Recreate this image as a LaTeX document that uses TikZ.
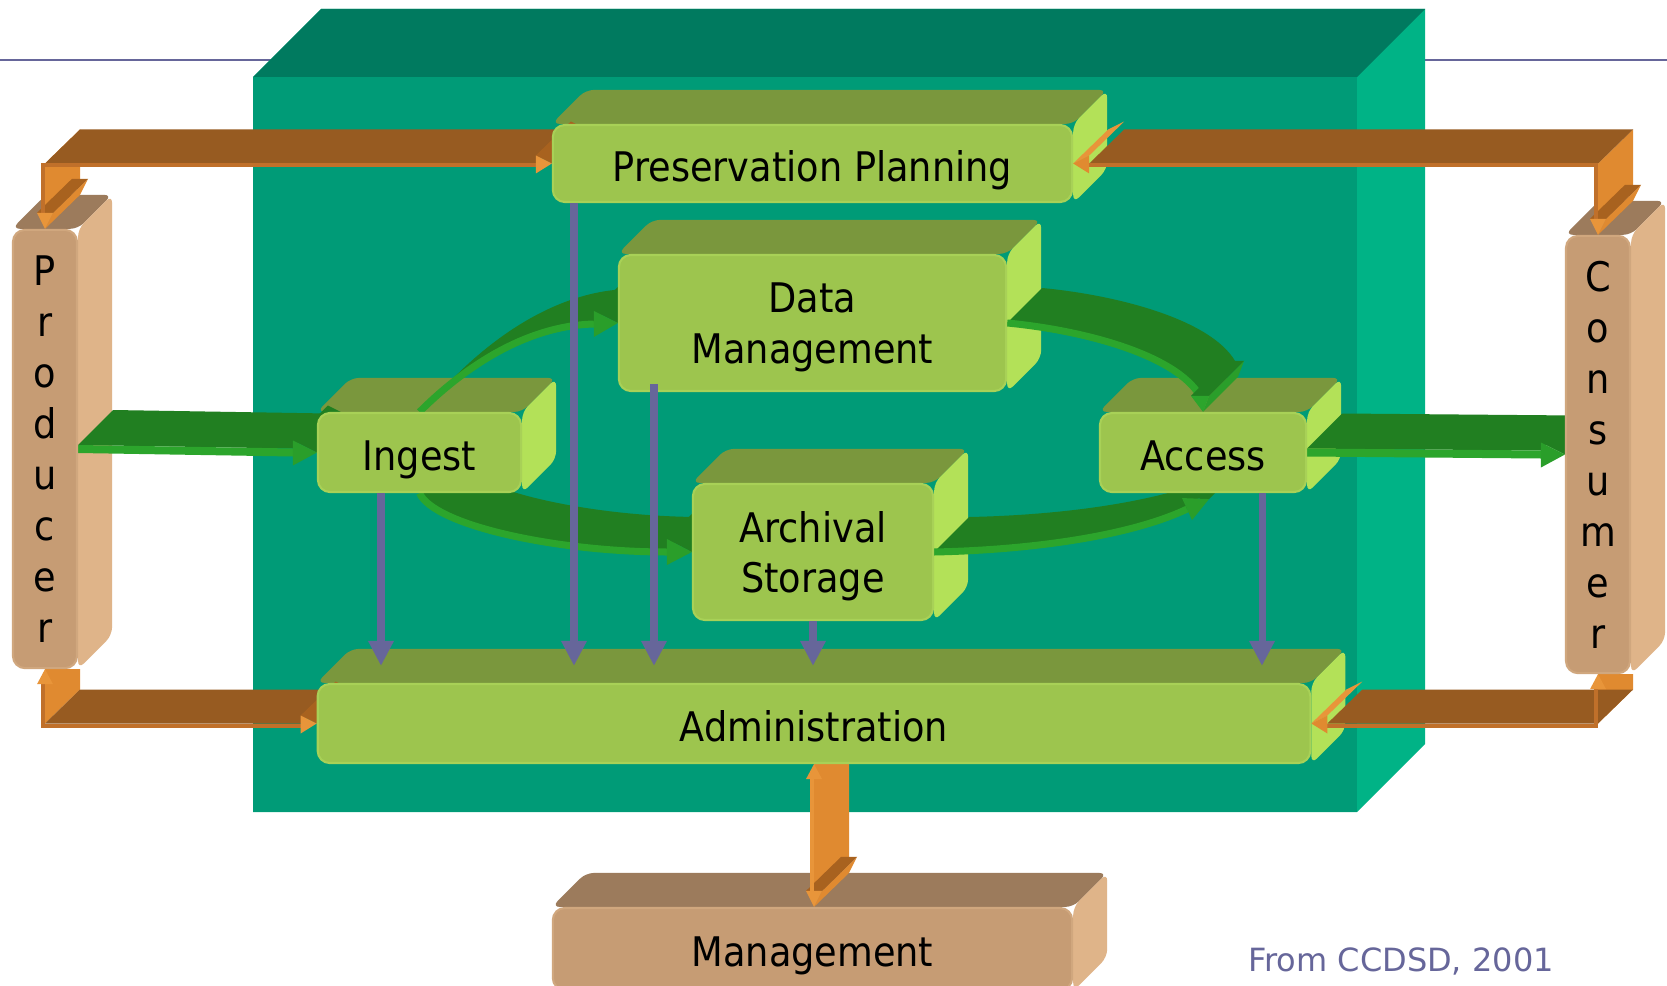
\documentclass[tikz,border=0pt]{standalone}
\usepackage{fontspec}
\IfFontExistsTF{DejaVu Sans Condensed}
  {\setmainfont{DejaVu Sans Condensed}
   \newcommand{\boxfont}{\fontsize{11.6}{14.5}\selectfont}}
  {\setmainfont{DejaVu Sans}
   \newcommand{\boxfont}{\fontsize{10.5}{14.5}\selectfont}}
\newfontfamily\notefont{DejaVu Sans}
\usetikzlibrary{arrows.meta, calc}

\definecolor{boxfront}{HTML}{9DC54E}
\definecolor{boxtop}{HTML}{7A973D}
\definecolor{boxside}{HTML}{B3E158}
\definecolor{boxedge}{HTML}{A8D157}
\definecolor{tanfront}{HTML}{C69C74}
\definecolor{tantop}{HTML}{9C7B5C}
\definecolor{tanside}{HTML}{DFB489}
\definecolor{tanedge}{HTML}{D0A77E}
\definecolor{tealfront}{HTML}{009B77}
\definecolor{tealtop}{HTML}{007A5F}
\definecolor{tealside}{HTML}{00B386}
\definecolor{flowline}{HTML}{66669A}
\definecolor{ribbontop}{HTML}{975B21}
\definecolor{ribbonside}{HTML}{E08A30}
\definecolor{ribbonlip}{HTML}{C0702A}
\definecolor{ribbonedge}{HTML}{A8621F}
\definecolor{ribbontip}{HTML}{E8953A}
\definecolor{greentop}{HTML}{217F21}
\definecolor{greenlip}{HTML}{2CA52C}
\definecolor{greenhead}{HTML}{2A9E2A}

\pgfdeclarelayer{back}
\pgfdeclarelayer{faces}
\pgfdeclarelayer{ribbons}
\pgfsetlayers{back,faces,ribbons,main}

% top and side face of a block node: node, top colour, side colour
\newcommand{\blockfaces}[3]{%
  \fill[#2, rounded corners=0.08cm] (#1.north west) -- ++(34,-34)
    -- ($(#1.north east)+(34,-34)$) -- (#1.north east) -- cycle;
  \fill[#3, rounded corners=0.08cm] (#1.north east) -- ++(34,-34)
    -- ($(#1.south east)+(34,-34)$) -- (#1.south east) -- cycle;
}

\begin{document}
\begin{tikzpicture}[x=0.01cm, y=-0.01cm,
    block/.style={rectangle, rounded corners=0.12cm, fill=boxfront, draw=boxedge,
      line width=0.6pt, inner sep=0pt, align=center, text=black, font=\boxfont,
      text depth=0pt, execute at begin node={\rule{0pt}{10.2pt}}},
    tanblock/.style={block, fill=tanfront, draw=tanedge},
    flow/.style={draw=flowline, line width=2pt,
      -{Triangle[length=0.25cm, width=0.24cm]}}]
  \useasboundingbox (0,0) rectangle (1667,985);

  % The archive box and the title rule behind it
  \begin{pgfonlayer}{back}
    \fill[white] (0,0) rectangle (1667,985);
    \draw[flowline, line width=0.6pt] (0,60) -- (1667,60);
    \coordinate (oais) at (805,444.5);
    \fill[tealside] ($(oais)+(-552,-367.5)$) -- ++(68,-68) -- ++(1104,0) -- ++(0,735)
      -- ++(-68,68) -- ++(-1104,0) -- cycle;
    \fill[tealtop] ($(oais)+(-552,-367.5)$) -- ++(68,-68) -- ++(1104,0) -- ++(-68,68) -- cycle;
    \node[fill=tealfront, inner sep=0pt, minimum width=11.04cm, minimum height=7.35cm]
      (box) at (oais) {};
  \end{pgfonlayer}

  % Functional entities
  \node[block, minimum width=5.19cm, minimum height=0.77cm] (plan) at (812.5,163.5) {Preservation Planning};
  \node[block, minimum width=3.87cm, minimum height=1.36cm] (dm) at (812.5,323) {Data\\Management};
  \node[block, minimum width=2.03cm, minimum height=0.79cm] (ing) at (419.5,452.5) {Ingest};
  \node[block, minimum width=2.06cm, minimum height=0.79cm] (acc) at (1203,452.5) {Access};
  \node[block, minimum width=2.40cm, minimum height=1.36cm] (arc) at (813,552) {Archival\\Storage};
  \node[block, minimum width=9.92cm, minimum height=0.79cm] (adm) at (814,723.5) {Administration};

  % Outside actors
  \node[tanblock, minimum width=5.19cm, minimum height=0.82cm] (mgmt) at (812.5,949) {Management};
  \node[tanblock, minimum width=0.64cm, minimum height=4.38cm] (prod) at (45,449) {P\\r\\o\\d\\u\\c\\e\\r};
  \node[tanblock, minimum width=0.64cm, minimum height=4.37cm] (cons) at (1598,454.5) {C\\o\\n\\s\\u\\m\\e\\r};

  \node[font={\notefont\fontsize{9.1}{11}\selectfont}, text=flowline] (src) at (1401,961) {From CCDSD, 2001};

  \begin{pgfonlayer}{faces}
    \blockfaces{plan}{boxtop}{boxside}
    \blockfaces{dm}{boxtop}{boxside}
    \blockfaces{ing}{boxtop}{boxside}
    \blockfaces{acc}{boxtop}{boxside}
    \blockfaces{arc}{boxtop}{boxside}
    \blockfaces{adm}{boxtop}{boxside}
    \blockfaces{mgmt}{tantop}{tanside}
    \blockfaces{prod}{tantop}{tanside}
    \blockfaces{cons}{tantop}{tanside}
  \end{pgfonlayer}

  \begin{pgfonlayer}{ribbons}
    % Producer <-> Preservation Planning
    \coordinate (tl) at (prod.north |- plan.west);
    \fill[ribbonside] (tl) -- ($(prod.north)+(0,-16)$) -- ++(35,-34) -- ($(tl)+(35,-34)$) -- cycle;
    \fill[ribbonside] ($(prod.north)+(8,-16)$) -- (prod.north) -- ++(35,-34) -- ($(prod.north)+(43,-50)$) -- cycle;
    \fill[ribbonedge] ($(prod.north)+(-8,-16)$) -- ($(prod.north)+(8,-16)$) -- ++(35,-34) -- ($(prod.north)+(27,-50)$) -- cycle;
    \fill[ribbontop] (tl) -- ($(plan.west)+(-16,0)$) -- ++(35,-34) -- ($(tl)+(35,-34)$) -- cycle;
    \fill[ribbonlip] (tl) -- ($(plan.west)+(-16,0)$) -- ++(0,4) -- ($(tl)+(0,4)$) -- cycle;
    \fill[ribbonlip] ($(tl)+(-4,0)$) rectangle ($(prod.north)+(0,-16)$);
    \fill[ribbonedge] ($(plan.west)+(-16,-8)$) -- (plan.west) -- ++(35,-34) -- ($(plan.west)+(19,-42)$) -- cycle;
    \fill[ribbontip] ($(plan.west)+(-16,-8)$) -- ($(plan.west)+(-16,10)$) -- (plan.west) -- cycle;
    \fill[ribbontip] ($(prod.north)+(-8,-16)$) -- ($(prod.north)+(8,-16)$) -- (prod.north) -- cycle;

    % Preservation Planning <-> Consumer
    \coordinate (tr) at (cons.north |- plan.east);
    \fill[ribbonside] (tr) -- ($(cons.north)+(0,-16)$) -- ++(35,-34) -- ($(tr)+(35,-34)$) -- cycle;
    \fill[ribbonside] ($(cons.north)+(8,-16)$) -- (cons.north) -- ++(35,-34) -- ($(cons.north)+(43,-50)$) -- cycle;
    \fill[ribbonedge] ($(cons.north)+(-8,-16)$) -- ($(cons.north)+(8,-16)$) -- ++(35,-34) -- ($(cons.north)+(27,-50)$) -- cycle;
    \fill[ribbontop] ($(plan.east)+(16,0)$) -- (tr) -- ++(35,-34) -- ($(plan.east)+(51,-34)$) -- cycle;
    \fill[ribbonlip] ($(plan.east)+(16,0)$) -- (tr) -- ++(0,4) -- ($(plan.east)+(16,4)$) -- cycle;
    \fill[ribbonlip] ($(tr)+(-4,0)$) rectangle ($(cons.north)+(0,-16)$);
    \fill[ribbontip] (plan.east) -- ($(plan.east)+(16,-8)$) -- ++(35,-34) -- ($(plan.east)+(35,-34)$) -- cycle;
    \fill[ribbonside] ($(plan.east)+(16,-8)$) -- ($(plan.east)+(16,10)$) -- (plan.east) -- cycle;
    \fill[ribbontip] ($(cons.north)+(-8,-16)$) -- ($(cons.north)+(8,-16)$) -- (cons.north) -- cycle;

    % Producer <-> Administration
    \coordinate (bl) at (prod.south |- adm.west);
    \fill[ribbonside] (bl) -- (prod.south) -- ++(35,0) -- ($(bl)+(35,-34)$) -- cycle;
    \fill[ribbontop] (bl) -- ($(adm.west)+(-16,0)$) -- ++(35,-34) -- ($(bl)+(35,-34)$) -- cycle;
    \fill[ribbonlip] (bl) -- ($(adm.west)+(-16,0)$) -- ++(0,4) -- ($(bl)+(0,4)$) -- cycle;
    \fill[ribbonlip] ($(bl)+(-4,4)$) rectangle ($(prod.south)+(0,15)$);
    \fill[ribbonedge] ($(adm.west)+(-16,-8)$) -- (adm.west) -- ++(35,-34) -- ($(adm.west)+(19,-42)$) -- cycle;
    \fill[ribbontip] ($(adm.west)+(-16,-8)$) -- ($(adm.west)+(-16,10)$) -- (adm.west) -- cycle;
    \fill[ribbontip] ($(prod.south)+(-8,15)$) -- ($(prod.south)+(8,15)$) -- (prod.south) -- cycle;

    % Administration <-> Consumer
    \coordinate (br) at (cons.south |- adm.east);
    \fill[ribbonside] (br) -- (cons.south) -- ++(35,0) -- ($(br)+(35,-34)$) -- cycle;
    \fill[ribbontop] ($(adm.east)+(16,0)$) -- (br) -- ++(35,-34) -- ($(adm.east)+(51,-34)$) -- cycle;
    \fill[ribbonlip] ($(adm.east)+(16,0)$) -- (br) -- ++(0,4) -- ($(adm.east)+(16,4)$) -- cycle;
    \fill[ribbonlip] ($(br)+(-4,4)$) rectangle ($(cons.south)+(0,15)$);
    \fill[ribbontip] (adm.east) -- ($(adm.east)+(16,-8)$) -- ++(35,-34) -- ($(adm.east)+(35,-34)$) -- cycle;
    \fill[ribbonside] ($(adm.east)+(16,-8)$) -- ($(adm.east)+(16,10)$) -- (adm.east) -- cycle;
    \fill[ribbontip] ($(cons.south)+(-8,15)$) -- ($(cons.south)+(8,15)$) -- (cons.south) -- cycle;

    % Administration <-> Management
    \coordinate (ms) at (adm.south |- mgmt.north);
    \fill[ribbonside] (adm.south) -- ($(ms)+(0,-16)$) -- ++(35,-34) -- ($(adm.south)+(35,-34)$) -- cycle;
    \fill[ribbonside] ($(ms)+(8,-16)$) -- (ms) -- ++(35,-34) -- ($(ms)+(43,-50)$) -- cycle;
    \fill[ribbonedge] ($(ms)+(-8,-16)$) -- ($(ms)+(8,-16)$) -- ++(35,-34) -- ($(ms)+(27,-50)$) -- cycle;
    \fill[ribbontip] ($(adm.south)+(-4,15)$) rectangle ($(ms)+(0,-16)$);
    \fill[ribbontip] ($(ms)+(-8,-16)$) -- ($(ms)+(8,-16)$) -- (ms) -- cycle;
    \fill[ribbontip] ($(adm.south)+(-8,15)$) -- ($(adm.south)+(8,15)$) -- (adm.south) -- cycle;

    % Producer -> Ingest
    \fill[greentop] ($(prod.east)+(0,-4)$) -- ($(ing.west)+(-24,-4)$) -- ++(35,-35) -- ($(prod.east)+(35,-39)$) -- cycle;
    \fill[greenlip] ($(prod.east)+(0,-4)$) -- ($(ing.west)+(-24,-4)$) -- ($(ing.west)+(-24,4)$) -- ($(prod.east)+(0,4)$) -- cycle;
    \fill[greentop] ($(ing.west)+(-24,-12)$) -- (ing.west) -- ++(35,-35) -- ($(ing.west)+(11,-47)$) -- cycle;
    \fill[greenhead] ($(ing.west)+(-24,-12)$) -- ($(ing.west)+(-24,13)$) -- (ing.west) -- cycle;

    % Access -> Consumer
    \fill[greentop] ($(acc.east)+(0,-4)$) -- ($(cons.west)+(-24,-4)$) -- ++(35,-35) -- ($(acc.east)+(35,-39)$) -- cycle;
    \fill[greenlip] ($(acc.east)+(0,-4)$) -- ($(cons.west)+(-24,-4)$) -- ($(cons.west)+(-24,4)$) -- ($(acc.east)+(0,4)$) -- cycle;
    \fill[greentop] ($(cons.west)+(-24,-12)$) -- (cons.west) -- ++(35,-35) -- ($(cons.west)+(11,-47)$) -- cycle;
    \fill[greenhead] ($(cons.west)+(-24,-12)$) -- ($(cons.west)+(-24,13)$) -- (cons.west) -- cycle;

    % Ingest -> Data Management
    \fill[greentop] (ing.north) .. controls ($(ing.north)+(36,-36)$) and ($(dm.west)+(-99,3)$) .. ($(dm.west)+(-24,1)$)
      -- ++(35,-35) .. controls ($(dm.west)+(-64,-32)$) and ($(ing.north)+(71,-71)$) .. ($(ing.north)+(35,-35)$) -- cycle;
    \draw[greenlip, line width=0.07cm] (ing.north) .. controls ($(ing.north)+(36,-36)$) and ($(dm.west)+(-99,3)$) .. ($(dm.west)+(-24,1)$);
    \fill[greentop] ($(dm.west)+(-24,-12)$) -- (dm.west) -- ++(35,-35) -- ($(dm.west)+(11,-47)$) -- cycle;
    \fill[greenhead] ($(dm.west)+(-24,-12)$) -- ($(dm.west)+(-24,14)$) -- (dm.west) -- cycle;

    % Data Management -> Access
    \fill[greentop] (dm.east) .. controls ($(dm.east)+(74,7)$) and ($(acc.north)+(-28,-58)$) .. ($(acc.north)+(-3,-16)$)
      -- ++(35,-35) .. controls ($(acc.north)+(7,-93)$) and ($(dm.east)+(109,-28)$) .. ($(dm.east)+(35,-35)$) -- cycle;
    \draw[greenlip, line width=0.07cm] (dm.east) .. controls ($(dm.east)+(74,7)$) and ($(acc.north)+(-28,-58)$) .. ($(acc.north)+(-3,-16)$);
    \fill[greenhead] ($(acc.north)+(6,-16)$) -- (acc.north) -- ++(35,-35) -- ($(acc.north)+(41,-51)$) -- cycle;
    \fill[greentop] ($(acc.north)+(-12,-16)$) -- ($(acc.north)+(6,-16)$) -- ++(35,-35) -- ($(acc.north)+(23,-51)$) -- cycle;
    \fill[greenlip] ($(acc.north)+(-12,-16)$) -- ($(acc.north)+(6,-16)$) -- (acc.north) -- cycle;

    % Ingest -> Archival Storage
    \fill[greentop] (ing.south) .. controls ($(ing.south)+(15,33)$) and ($(arc.west)+(-133,0)$) .. ($(arc.west)+(-25,0)$)
      -- ++(35,-35) .. controls ($(arc.west)+(-98,-35)$) and ($(ing.south)+(50,-2)$) .. ($(ing.south)+(35,-35)$) -- cycle;
    \draw[greenlip, line width=0.07cm] (ing.south) .. controls ($(ing.south)+(15,33)$) and ($(arc.west)+(-133,0)$) .. ($(arc.west)+(-25,0)$);
    \fill[greentop] ($(arc.west)+(-25,-13)$) -- (arc.west) -- ++(35,-35) -- ($(arc.west)+(10,-48)$) -- cycle;
    \fill[greenhead] ($(arc.west)+(-25,-13)$) -- ($(arc.west)+(-25,13)$) -- (arc.west) -- cycle;

    % Archival Storage -> Access
    \fill[greentop] (arc.east) .. controls ($(arc.east)+(97,-2)$) and ($(acc.south)+(-73,43)$) .. ($(acc.south)+(-16,16)$)
      -- ++(35,-35) .. controls ($(acc.south)+(-38,8)$) and ($(arc.east)+(132,-37)$) .. ($(arc.east)+(35,-35)$) -- cycle;
    \draw[greenlip, line width=0.07cm] (arc.east) .. controls ($(arc.east)+(97,-2)$) and ($(acc.south)+(-73,43)$) .. ($(acc.south)+(-16,16)$);
    \fill[greentop] ($(acc.south)+(-21,5)$) -- ($(acc.south)+(6,6)$) -- ++(35,-35) -- ($(acc.south)+(14,-30)$) -- cycle;
    \fill[greenhead] ($(acc.south)+(-21,5)$) -- ($(acc.south)+(-11,27)$) -- ($(acc.south)+(6,6)$) -- cycle;
  \end{pgfonlayer}

  % Flows into Administration
  \coordinate (admtop) at ($(adm.north)+(0,-17)$);
  \coordinate (f1) at ($(ing.south)+(-38.5,0)$);
  \coordinate (f2) at ($(plan.south)+(-238.5,0)$);
  \coordinate (f3) at ($(dm.south)+(-158.5,-8)$);
  \coordinate (f4) at (arc.south);
  \coordinate (f5) at ($(acc.south)+(59,0)$);
  \foreach \f in {f1,f2,f3,f4,f5}
    \draw[flow] (\f) -- (\f |- admtop);
\end{tikzpicture}
\end{document}
